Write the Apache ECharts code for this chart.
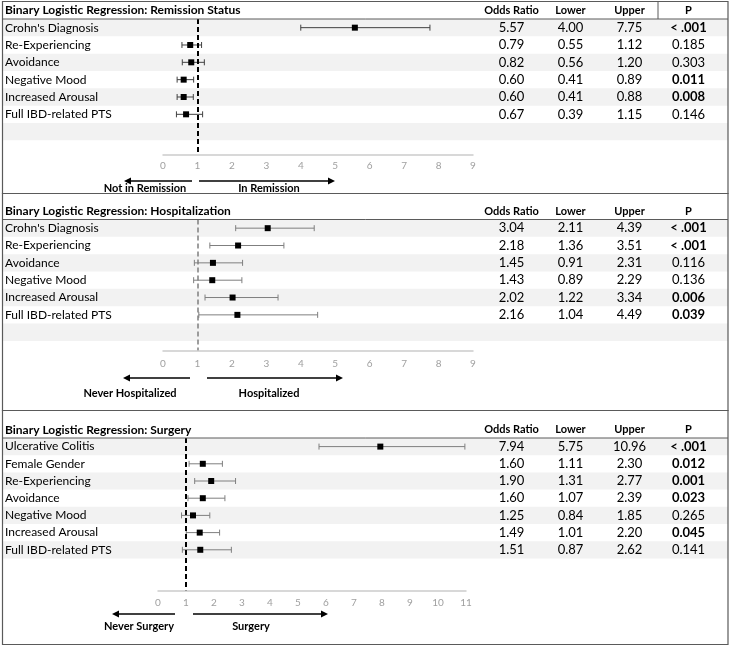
<!DOCTYPE html>
<html><head><meta charset="utf-8">
<script src="https://cdn.jsdelivr.net/npm/echarts@6/dist/echarts.min.js"></script>
<style>html,body{margin:0;padding:0;background:#fff}#c{width:730px;height:649px}</style>
</head><body><div id="c"></div>
<script>
// ---------- DATA ----------
const tableColumns = ['Odds Ratio', 'Lower', 'Upper', 'P'];

const remTitle = 'Binary Logistic Regression: Remission Status';
const remLabels = ["Crohn's Diagnosis", 'Re-Experiencing', 'Avoidance', 'Negative Mood', 'Increased Arousal', 'Full IBD-related PTS'];
const remOR = [5.57, 0.79, 0.82, 0.60, 0.60, 0.67];
const remLower = [4.00, 0.55, 0.56, 0.41, 0.41, 0.39];
const remUpper = [7.75, 1.12, 1.20, 0.89, 0.88, 1.15];
const remP = ['< .001', '0.185', '0.303', '0.011', '0.008', '0.146'];
const remTicks = [0, 9];
const remArrows = ['Not in Remission', 'In Remission'];

const hospTitle = 'Binary Logistic Regression: Hospitalization';
const hospLabels = ["Crohn's Diagnosis", 'Re-Experiencing', 'Avoidance', 'Negative Mood', 'Increased Arousal', 'Full IBD-related PTS'];
const hospOR = [3.04, 2.18, 1.45, 1.43, 2.02, 2.16];
const hospLower = [2.11, 1.36, 0.91, 0.89, 1.22, 1.04];
const hospUpper = [4.39, 3.51, 2.31, 2.29, 3.34, 4.49];
const hospP = ['< .001', '< .001', '0.116', '0.136', '0.006', '0.039'];
const hospTicks = [0, 9];
const hospArrows = ['Never Hospitalized', 'Hospitalized'];

const surgTitle = 'Binary Logistic Regression: Surgery';
const surgLabels = ['Ulcerative Colitis', 'Female Gender', 'Re-Experiencing', 'Avoidance', 'Negative Mood', 'Increased Arousal', 'Full IBD-related PTS'];
const surgOR = [7.94, 1.60, 1.90, 1.60, 1.25, 1.49, 1.51];
const surgLower = [5.75, 1.11, 1.31, 1.07, 0.84, 1.01, 0.87];
const surgUpper = [10.96, 2.30, 2.77, 2.39, 1.85, 2.20, 2.62];
const surgP = ['< .001', '0.012', '0.001', '0.023', '0.265', '0.045', '0.141'];
const surgTicks = [0, 11];
const surgArrows = ['Never Surgery', 'Surgery'];

// ---------- LAYOUT ----------
const FONT = 'Lato, "Open Sans", sans-serif';
const panels = [
  {title: remTitle, labels: remLabels, or: remOR, lo: remLower, up: remUpper, p: remP, ticks: remTicks, arrows: remArrows,
   top: 1, bottom: 193, titleY: 10, rowTop: 19, rowH: 17.33, nBg: 8, axisY: 155, x0: 163, x1: 473, tickMargin: 6,
   arrowY: 181, labelY: 188, arrowL: [192, 124], arrowR: [199, 335], labelX: [145, 269],
   dash: {color: '#000', width: 2}, barColor: '#404040', headerSep: true},
  {title: hospTitle, labels: hospLabels, or: hospOR, lo: hospLower, up: hospUpper, p: hospP, ticks: hospTicks, arrows: hospArrows,
   top: 193, bottom: 410, titleY: 211, rowTop: 219.5, rowH: 17.34, nBg: 8, axisY: 351, x0: 163, x1: 473, tickMargin: 8,
   arrowY: 378, labelY: 393, arrowL: [190, 123], arrowR: [207, 343], labelX: [130, 269],
   dash: {color: '#7f7f7f', width: 1.5}, barColor: '#7f7f7f', headerSep: false},
  {title: surgTitle, labels: surgLabels, or: surgOR, lo: surgLower, up: surgUpper, p: surgP, ticks: surgTicks, arrows: surgArrows,
   top: 410, bottom: 644, titleY: 430, rowTop: 438, rowH: 17.2, nBg: 7, axisY: 591, x0: 158, x1: 466, tickMargin: 7,
   arrowY: 614, labelY: 626, arrowL: [175, 112], arrowR: [193, 328], labelX: [139, 251],
   dash: {color: '#000', width: 2}, barColor: '#7f7f7f', headerSep: false}
];

const chart = echarts.init(document.getElementById('c'), null, {renderer: 'canvas'});
const option = {
  backgroundColor: '#fff', animation: false,
  title: [], grid: [], xAxis: [], yAxis: [], series: [], graphic: []
};

function isBold(p) { return p.indexOf('<') === 0 || parseFloat(p) < 0.05; }

panels.forEach((pn, k) => {
  const n = pn.labels.length;
  const rowsLabels = pn.labels.slice();
  while (rowsLabels.length < pn.nBg) rowsLabels.push('');
  const bgH = pn.nBg * pn.rowH;

  option.title.push({text: pn.title, left: 5, top: pn.titleY - 7.5, padding: 0,
    textStyle: {fontFamily: FONT, fontWeight: 'bold', fontSize: 12, lineHeight: 15, color: '#000'}});

  // background grid with stripes + row labels
  const gBg = option.grid.length;
  option.grid.push({left: 3, width: 725, top: pn.rowTop, height: bgH});
  option.xAxis.push({gridIndex: gBg, type: 'value', show: false, min: 0, max: 1});
  option.yAxis.push({gridIndex: gBg, type: 'category', inverse: true, data: rowsLabels, z: 0,
    axisLine: {show: false}, axisTick: {show: false},
    axisLabel: {inside: true, margin: 2, color: '#000', fontFamily: FONT, fontSize: 12, interval: 0},
    splitLine: {show: false},
    splitArea: {show: true, interval: 0, areaStyle: {color: ['#f2f2f2', 'rgba(255,255,255,0)']}}});

  // forest grid
  const gF = option.grid.length;
  const yMax = (pn.axisY - pn.rowTop) / pn.rowH - 0.5;
  option.grid.push({left: pn.x0, width: pn.x1 - pn.x0, top: pn.rowTop, height: pn.axisY - pn.rowTop});
  option.xAxis.push({gridIndex: gF, type: 'value', min: pn.ticks[0], max: pn.ticks[1], interval: 1, z: 5,
    axisLine: {show: true, onZero: false, lineStyle: {color: '#cccccc', width: 1.5}}, axisTick: {show: false}, splitLine: {show: false},
    axisLabel: {color: '#a0a0a0', fontSize: 10, fontFamily: FONT, margin: pn.tickMargin}});
  option.yAxis.push({gridIndex: gF, type: 'value', inverse: true, min: -0.5, max: yMax, show: false});

  const bars = pn.lo.map((v, i) => [v, pn.up[i], i]);
  option.series.push({type: 'custom', xAxisIndex: gF, yAxisIndex: gF, data: bars, silent: true,
    encode: {x: [0, 1], y: 2},
    renderItem: function (params, api) {
      const a = api.coord([api.value(0), api.value(2)]);
      const b = api.coord([api.value(1), api.value(2)]);
      const st = {stroke: pn.barColor, lineWidth: 1};
      return {type: 'group', children: [
        {type: 'line', shape: {x1: a[0], y1: a[1], x2: b[0], y2: b[1]}, style: st},
        {type: 'line', shape: {x1: a[0], y1: a[1] - 3, x2: a[0], y2: a[1] + 3}, style: st},
        {type: 'line', shape: {x1: b[0], y1: b[1] - 3, x2: b[0], y2: b[1] + 3}, style: st}
      ]};
    }});
  option.series.push({type: 'scatter', xAxisIndex: gF, yAxisIndex: gF, symbol: 'rect', symbolSize: 6,
    itemStyle: {color: '#000', opacity: 1}, silent: true, z: 3, data: pn.or.map((v, i) => [v, i]),
    markLine: {silent: true, symbol: 'none', label: {show: false},
      lineStyle: {color: pn.dash.color, width: pn.dash.width, type: [5, 3]},
      data: [{xAxis: 1}]}});

  // table grid
  const gT = option.grid.length;
  option.grid.push({left: 482, width: 236, top: pn.rowTop, height: bgH});
  option.xAxis.push({gridIndex: gT, type: 'category', position: 'top', data: tableColumns,
    axisLine: {show: false}, axisTick: {show: false},
    axisLabel: {interval: 0, color: '#000', fontWeight: 'bold', fontSize: 11, fontFamily: FONT, margin: 3}});
  option.yAxis.push({gridIndex: gT, type: 'category', inverse: true, data: rowsLabels, show: false});
  const cells = [];
  for (let i = 0; i < n; i++) {
    cells.push({v: [0, i], t: pn.or[i].toFixed(2), b: false});
    cells.push({v: [1, i], t: pn.lo[i].toFixed(2), b: false});
    cells.push({v: [2, i], t: pn.up[i].toFixed(2), b: false});
    cells.push({v: [3, i], t: pn.p[i], b: isBold(pn.p[i])});
  }
  option.series.push({type: 'custom', xAxisIndex: gT, yAxisIndex: gT, silent: true,
    data: cells.map(c => c.v),
    renderItem: function (params, api) {
      const c = cells[params.dataIndex];
      const p = api.coord([api.value(0), api.value(1)]);
      return {type: 'text', x: p[0], y: p[1], style: {text: c.t, align: 'center', verticalAlign: 'middle',
        fill: '#000', fontFamily: FONT, fontSize: 13, fontWeight: c.b ? 'bold' : 'normal'}};
    }});

  // decorations: border, title underline, arrows
  option.graphic.push({type: 'rect', silent: true, z: 10,
    shape: {x: 2.5, y: pn.top + 0.5, width: 725.5, height: pn.bottom - pn.top},
    style: {fill: 'none', stroke: '#5a5a5a', lineWidth: 1.2}});
  option.graphic.push({type: 'line', silent: true, z: 10,
    shape: {x1: 2.5, y1: pn.rowTop, x2: 728, y2: pn.rowTop}, style: {stroke: '#5a5a5a', lineWidth: 1}});
  if (pn.headerSep) {
    option.graphic.push({type: 'line', silent: true, z: 10,
      shape: {x1: 658, y1: pn.top, x2: 658, y2: pn.rowTop}, style: {stroke: '#5a5a5a', lineWidth: 1}});
  }
  [pn.arrowL, pn.arrowR].forEach(a => {
    const dir = a[1] > a[0] ? 1 : -1;
    const tipX = a[1], y = pn.arrowY;
    option.graphic.push({type: 'line', silent: true,
      shape: {x1: a[0], y1: y, x2: tipX - dir * 5, y2: y}, style: {stroke: '#000', lineWidth: 1.6}});
    option.graphic.push({type: 'polygon', silent: true,
      shape: {points: [[tipX, y], [tipX - dir * 7, y - 3.5], [tipX - dir * 7, y + 3.5]]}, style: {fill: '#000'}});
  });
  pn.arrows.forEach((txt, j) => {
    option.graphic.push({type: 'text', silent: true, x: pn.labelX[j], y: pn.labelY,
      style: {text: txt, align: 'center', verticalAlign: 'middle', fill: '#000', fontFamily: FONT, fontSize: 11, fontWeight: 'bold'}});
  });
});

chart.setOption(option);
</script>
</body></html>
